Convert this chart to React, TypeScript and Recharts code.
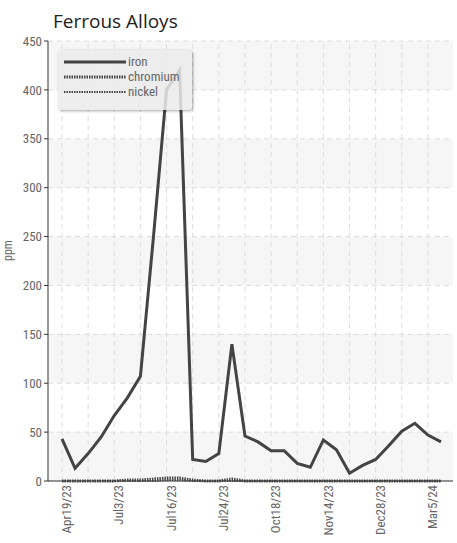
import { CartesianGrid, Line, LineChart, XAxis, YAxis, Label, ReferenceLine } from 'recharts';

const dates = [
  'Apr19/23', 'a1', 'a2', 'a3', 'Jul3/23', 'b1', 'b2', 'b3', 'Jul16/23', 'c1', 'c2', 'c3', 'Jul24/23', 'd1', 'd2',
  'd3', 'Oct18/23', 'e1', 'e2', 'e3', 'Nov14/23', 'f1', 'f2', 'f3', 'Dec28/23', 'g1', 'g2', 'g3', 'Mar5/24', 'h1'
];
const iron = [43, 13, 28, 45, 67, 85, 107, 250, 400, 420, 22, 20, 28, 140, 46, 40, 31, 31, 18, 14, 42, 32, 8, 16, 22, 36, 51, 59, 47, 40];
const chromium = [0, 0, 0, 0, 0, 1, 1, 2, 3, 3, 1, 0, 0, 2, 0, 0, 0, 0, 0, 0, 0, 0, 0, 0, 0, 0, 0, 0, 0, 0];
const nickel = [0, 0, 0, 0, 0, 0, 0, 0, 1, 1, 0, 0, 0, 0, 0, 0, 0, 0, 0, 0, 0, 0, 0, 0, 0, 0, 0, 0, 0, 0];
const yTicks = [0, 50, 100, 150, 200, 250, 300, 350, 400, 450];

const data = dates.map((d, i) => ({ date: d, iron: iron[i], chromium: chromium[i], nickel: nickel[i] }));
const font = "'Roboto Condensed', 'Liberation Sans Narrow', 'DejaVu Sans Condensed', sans-serif";

function LegendBox() {
  const row = (name: string, dash: string | undefined, w: number, top: number) => (
    <div style={{ position: 'absolute', left: 6, top, display: 'flex', alignItems: 'center' }}>
      <svg width={62} height={6}>
        <line x1={0} y1={3} x2={62} y2={3} stroke="#444" strokeWidth={w} strokeDasharray={dash} />
      </svg>
      <span style={{ fontSize: 13, color: '#666', marginLeft: 2, fontFamily: font, lineHeight: '14px' }}>{name}</span>
    </div>
  );
  return (
    <div
      style={{
        position: 'absolute', left: 58, top: 50, width: 134, height: 60, background: 'rgba(235,235,235,0.85)',
        borderRadius: 4, boxShadow: '1px 1px 3px rgba(0,0,0,0.35)'
      }}
    >
      {row('iron', undefined, 3, 5)}
      {row('chromium', '1.5 1', 3, 20)}
      {row('nickel', '1.5 1', 2, 35)}
    </div>
  );
}

export default function App() {
  return (
    <div style={{ position: 'absolute', left: 0, top: 0, width: 457, height: 543, background: '#fff' }}>
      <div style={{ position: 'absolute', left: 53, top: 8, fontSize: 19, fontFamily: "'Open Sans', sans-serif", color: '#222' }}>
        Ferrous Alloys
      </div>
      <LineChart width={457} height={543} data={data} margin={{ top: 41, right: 4, bottom: 2, left: 8 }}>
        <CartesianGrid stroke="#ddd" strokeDasharray="5 4" vertical={false} horizontalFill={['#f6f6f6', '#ffffff']} />
        {dates
          .filter((_, i) => i % 2 === 0)
          .map((d) => (
            <ReferenceLine key={d} x={d} stroke="#ddd" strokeDasharray="5 4" />
          ))}
        <XAxis
          dataKey="date"
          interval={0}
          tickFormatter={(v: string) => (v.includes('/') ? v : '')}
          angle={-90}
          textAnchor="end"
          height={60}
          tick={{ fontSize: 13, fill: '#666', fontFamily: font, dy: -4 }}
          stroke="#333"
          tickLine={false}
          padding={{ left: 14, right: 12 }}
        />
        <YAxis
          domain={[0, 450]}
          ticks={yTicks}
          width={40}
          tick={{ fontSize: 13, fill: '#666', fontFamily: font }}
          stroke="#333"
          tickSize={4}
        >
          <Label value="ppm" angle={-90} position="insideLeft" offset={0} style={{ fontSize: 12, fill: '#666', fontFamily: font }} />
        </YAxis>
        <Line dataKey="iron" stroke="#444" strokeWidth={3} dot={false} isAnimationActive={false} />
        <Line dataKey="chromium" stroke="#444" strokeWidth={3} strokeDasharray="1.5 1" dot={false} isAnimationActive={false} />
        <Line dataKey="nickel" stroke="#555" strokeWidth={2} strokeDasharray="1.5 1" dot={false} isAnimationActive={false} />
      </LineChart>
      <LegendBox />
    </div>
  );
}
